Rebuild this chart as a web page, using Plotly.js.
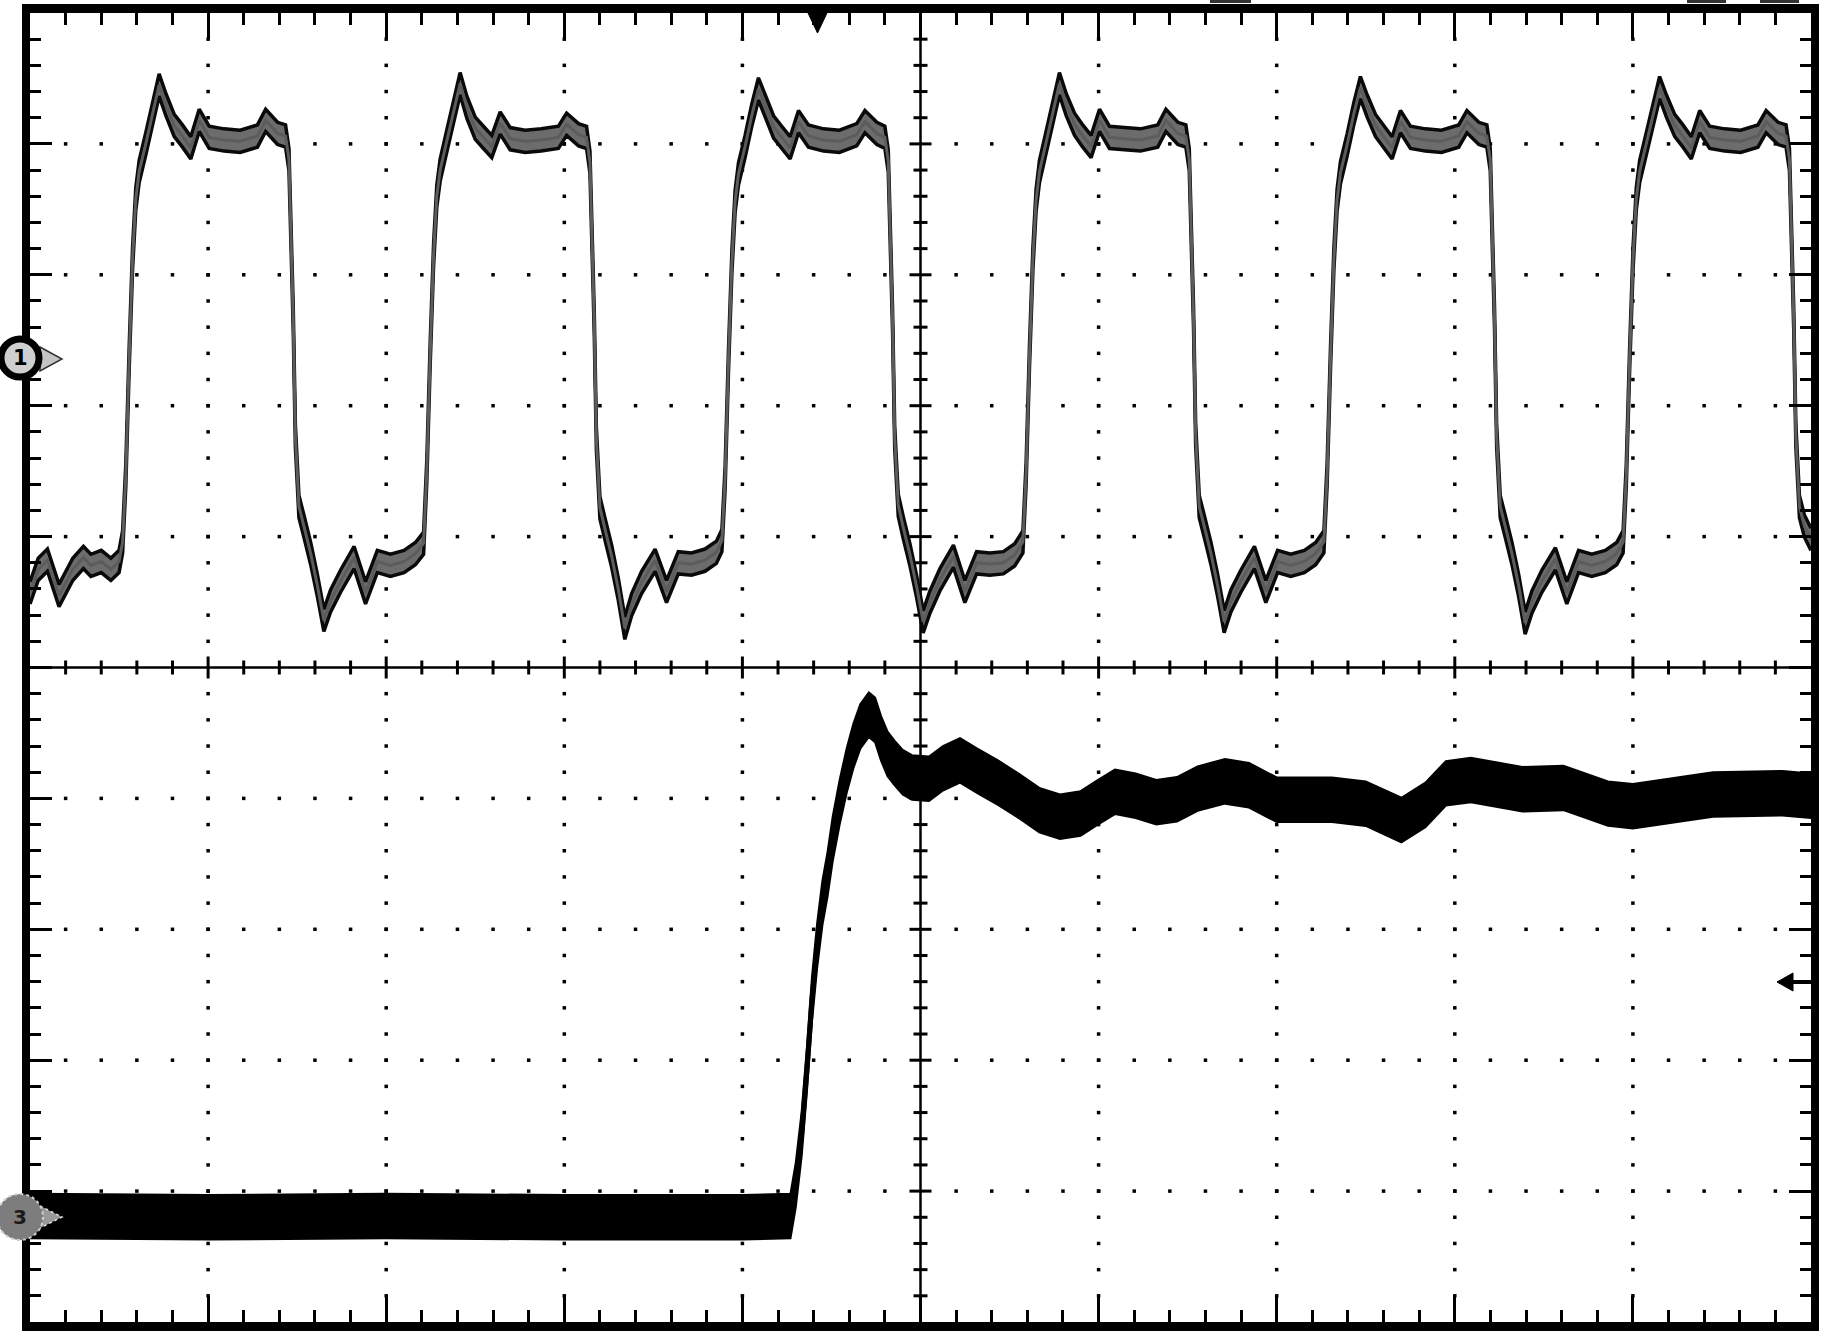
<!DOCTYPE html>
<html>
<head>
<meta charset="utf-8">
<script src="https://cdn.plot.ly/plotly-3.0.1.min.js"></script>
<style>
html,body{margin:0;padding:0;background:#fff;}
#chart{width:1824px;height:1334px;}
</style>
</head>
<body>
<div id="chart"></div>
<script>
// ---- Channel 1 (upper trace), time in divisions, level in divisions ----
const ch1LeadTime  = [0, 0.046, 0.098, 0.163, 0.24, 0.30, 0.342, 0.40, 0.454, 0.50];
const ch1LeadLevel = [0.57, 0.75, 0.82, 0.55, 0.75, 0.84, 0.78, 0.81, 0.75, 0.81];

const ch1TimeA  = [0.52,0.538,0.557,0.576,0.594,0.613,0.65,0.688,0.725,0.763,0.81,0.856,0.903,0.95,1.006,1.09,1.18,1.277,1.323,1.39,1.435,1.454,1.464,1.478,1.49,1.51,1.538,1.576,1.613,1.65,1.688,1.744,1.82,1.884,1.95,2.024,2.10,2.164];
const ch1LevelA = [0.96,1.47,2.37,3.13,3.58,3.79,4.00,4.24,4.45,4.30,4.14,4.06,3.97,4.18,4.05,4.03,4.02,4.06,4.18,4.08,4.06,3.88,3.43,2.67,1.77,1.23,1.08,0.87,0.63,0.36,0.51,0.66,0.84,0.57,0.81,0.78,0.81,0.87];

const ch1TimeB  = [2.21,2.228,2.247,2.266,2.284,2.303,2.34,2.378,2.415,2.453,2.50,2.546,2.593,2.64,2.696,2.78,2.87,2.967,3.013,3.08,3.125,3.144,3.154,3.168,3.18,3.20,3.228,3.266,3.303,3.34,3.378,3.434,3.51,3.574,3.64,3.714,3.79,3.854];
const ch1LevelB = [0.95,1.50,2.40,3.15,3.60,3.80,4.02,4.25,4.46,4.28,4.12,4.05,3.98,4.16,4.04,4.02,4.03,4.05,4.15,4.07,4.05,3.86,3.40,2.65,1.75,1.22,1.06,0.85,0.60,0.30,0.48,0.65,0.82,0.58,0.80,0.79,0.82,0.88];

const ch1TimeC  = [3.885,3.903,3.922,3.941,3.959,3.978,4.015,4.053,4.09,4.128,4.175,4.221,4.268,4.315,4.371,4.455,4.545,4.642,4.688,4.755,4.80,4.819,4.829,4.843,4.855,4.875,4.903,4.941,4.978,5.015,5.053,5.109,5.185,5.249,5.315,5.389,5.465,5.529];
const ch1LevelC = [0.97,1.45,2.35,3.10,3.56,3.77,3.98,4.22,4.42,4.29,4.13,4.05,3.97,4.17,4.06,4.03,4.02,4.07,4.17,4.08,4.05,3.87,3.42,2.66,1.76,1.24,1.07,0.86,0.62,0.35,0.50,0.67,0.85,0.58,0.80,0.79,0.80,0.86];

const ch1TimeD  = [5.575,5.593,5.612,5.631,5.649,5.668,5.705,5.743,5.78,5.818,5.865,5.911,5.958,6.005,6.061,6.145,6.235,6.332,6.378,6.445,6.49,6.509,6.519,6.533,6.545,6.565,6.593,6.631,6.668,6.705,6.743,6.799,6.875,6.939,7.005,7.079,7.155,7.219];
const ch1LevelD = [0.96,1.48,2.38,3.12,3.57,3.79,4.01,4.24,4.46,4.30,4.15,4.06,3.98,4.18,4.05,4.04,4.03,4.06,4.18,4.08,4.06,3.88,3.43,2.68,1.78,1.23,1.08,0.87,0.63,0.35,0.51,0.66,0.84,0.58,0.81,0.78,0.81,0.87];

const ch1TimeE  = [7.265,7.283,7.302,7.321,7.339,7.358,7.395,7.433,7.47,7.508,7.555,7.601,7.648,7.695,7.751,7.835,7.925,8.022,8.068,8.135,8.18,8.199,8.209,8.223,8.235,8.255,8.283,8.321,8.358,8.395,8.433,8.489,8.565,8.629,8.695,8.769,8.845,8.909];
const ch1LevelE = [0.96,1.47,2.36,3.12,3.57,3.78,3.99,4.23,4.43,4.29,4.14,4.06,3.97,4.17,4.05,4.03,4.02,4.06,4.17,4.08,4.06,3.88,3.44,2.67,1.77,1.23,1.08,0.87,0.63,0.34,0.50,0.66,0.83,0.57,0.81,0.78,0.81,0.87];

const ch1TimeF  = [8.945,8.963,8.982,9.001,9.019,9.038,9.075,9.113,9.15,9.188,9.235,9.281,9.328,9.375,9.431,9.515,9.605,9.702,9.748,9.815,9.86,9.879,9.889,9.903,9.915,9.935,9.963,10.0];
const ch1LevelF = [0.96,1.47,2.37,3.13,3.58,3.79,4.00,4.23,4.43,4.29,4.14,4.06,3.97,4.17,4.05,4.03,4.02,4.06,4.17,4.08,4.06,3.88,3.43,2.67,1.77,1.23,1.08,0.98];

// ---- Channel 3 (lower trace) ----
const ch3Time  = [0,1,2,3,4,4.27,4.30,4.333,4.362,4.391,4.42,4.449,4.478,4.507,4.546,4.585,4.623,4.662,4.71,4.745,4.778,4.815,4.855,4.90,4.952,5.048,5.126,5.222,5.319,5.435,5.551,5.667,5.783,5.899,5.995,6.092,6.208,6.324,6.44,6.556,6.71,6.845,7.0,7.31,7.50,7.70,7.835,7.95,8.09,8.38,8.61,8.86,9.0,9.25,9.45,9.84,10.0];
const ch3Level = [-4.19,-4.20,-4.19,-4.20,-4.20,-4.19,-3.95,-3.56,-3.075,-2.53,-2.12,-1.80,-1.58,-1.31,-1.03,-0.79,-0.60,-0.45,-0.36,-0.40,-0.54,-0.66,-0.73,-0.80,-0.84,-0.85,-0.77,-0.71,-0.79,-0.88,-0.98,-1.09,-1.14,-1.115,-1.03,-0.95,-0.98,-1.03,-1.007,-0.925,-0.87,-0.90,-1.01,-1.01,-1.04,-1.165,-1.05,-0.885,-0.86,-0.93,-0.92,-1.04,-1.06,-1.01,-0.97,-0.96,-0.98];

// noise band half-widths (divisions)
const ch1Half = 0.085;
const ch3Half = 0.17;

const ch1Time  = [].concat(ch1LeadTime, ch1TimeA, ch1TimeB, ch1TimeC, ch1TimeD, ch1TimeE, ch1TimeF);
const ch1Level = [].concat(ch1LeadLevel, ch1LevelA, ch1LevelB, ch1LevelC, ch1LevelD, ch1LevelE, ch1LevelF);

// ---- page geometry ----
const ML = 30, MR = 13, MT = 13, MB = 12, W = 1824, H = 1334;
const PW = W - ML - MR, PH = H - MT - MB;
const px = v => (v - ML) / PW;
const py = v => (H - MB - v) / PH;

// ---- graticule dots ----
const dotX = [], dotY = [];
[1,2,3,4,6,7,8,9].forEach(g => {
  for (let j = 1; j < 50; j++) { const y = -5 + 0.2*j; if (Math.abs(y) > 1e-6) { dotX.push(g); dotY.push(y); } }
});
[-4,-3,-2,-1,1,2,3,4].forEach(g => {
  for (let i = 1; i < 50; i++) { const x = 0.2*i; if (Math.abs(x-5) > 1e-6) { dotX.push(x); dotY.push(g); } }
});

const traces = [
  {x: dotX, y: dotY, mode: 'markers', type: 'scatter', hoverinfo: 'skip',
   marker: {symbol: 'square', size: 3.5, color: '#000', line: {width: 0}}},
  {x: ch1Time, y: ch1Level.map(v => v + ch1Half), mode: 'lines', type: 'scatter', hoverinfo: 'skip',
   line: {color: '#0a0a0a', width: 3.5}},
  {x: ch1Time, y: ch1Level.map(v => v - ch1Half), mode: 'lines', type: 'scatter', hoverinfo: 'skip',
   line: {color: '#0a0a0a', width: 3.5}, fill: 'tonexty', fillcolor: '#6c6c6c'},
  {x: ch1Time, y: ch1Level, mode: 'lines', type: 'scatter', hoverinfo: 'skip',
   line: {color: '#5c5c5c', width: 3}},
  {x: ch3Time, y: ch3Level.map(v => v + ch3Half), mode: 'lines', type: 'scatter', hoverinfo: 'skip',
   line: {color: '#000', width: 2}},
  {x: ch3Time, y: ch3Level.map(v => v - ch3Half), mode: 'lines', type: 'scatter', hoverinfo: 'skip',
   line: {color: '#000', width: 2}, fill: 'tonexty', fillcolor: '#000'},
  {x: ch3Time, y: ch3Level, mode: 'lines', type: 'scatter', hoverinfo: 'skip',
   line: {color: '#000', width: 5}}
];

const shapes = [];
// center cross lines
shapes.push({type:'line', xref:'x', yref:'y', x0:5, x1:5, y0:-5, y1:5, line:{color:'#000', width:2.5}, layer:'below'});
shapes.push({type:'line', xref:'x', yref:'y', x0:0, x1:10, y0:0, y1:0, line:{color:'#000', width:2.5}, layer:'below'});
for (let k = 1; k < 50; k++) {
  const v = 0.2*k;
  const major = (k % 5 === 0);
  const len = major ? 11 : 7;
  if (k !== 25) {
    shapes.push({type:'line', xref:'x', yref:'y', ysizemode:'pixel', yanchor:0, x0:v, x1:v, y0:-len, y1:len,
                 line:{color:'#000', width:3}, layer:'below'});
    const yv = -5 + v;
    shapes.push({type:'line', yref:'y', xref:'x', xsizemode:'pixel', xanchor:5, y0:yv, y1:yv, x0:-len, x1:len,
                 line:{color:'#000', width:3}, layer:'below'});
  }
}
// frame
const rect = (x0,y0,x1,y1,col) => ({type:'rect', xref:'paper', yref:'paper', x0:px(x0), x1:px(x1), y0:py(y1), y1:py(y0),
                                   fillcolor:col, line:{width:0}, layer:'above'});
shapes.push(rect(22, 4, 30, 1331, '#000'));
shapes.push(rect(1811, 4, 1819, 1331, '#000'));
shapes.push(rect(22, 4, 1819, 13, '#000'));
shapes.push(rect(22, 1322, 1819, 1331, '#000'));
// small marks on top edge
[[1210,1251],[1687,1726],[1760,1799]].forEach(s => {
  shapes.push(rect(s[0], 0, s[1], 3, '#333'));
});
// trigger position marker
const pathPx = pts => 'M ' + pts.map(p => px(p[0]) + ',' + py(p[1])).join(' L ') + ' Z';
shapes.push({type:'path', xref:'paper', yref:'paper', path: pathPx([[808,13],[827,13],[817.5,33]]),
             fillcolor:'#000', line:{color:'#000', width:1}, layer:'above'});
// trigger level arrow on right
shapes.push({type:'path', xref:'paper', yref:'paper', path: pathPx([[1777,982],[1793,973],[1793,991]]),
             fillcolor:'#000', line:{color:'#000', width:1}, layer:'above'});
shapes.push({type:'line', xref:'paper', yref:'paper', x0:px(1790), x1:px(1811), y0:py(982), y1:py(982),
             line:{color:'#000', width:4}, layer:'above'});
// channel 1 marker
shapes.push({type:'path', xref:'paper', yref:'paper', path: pathPx([[40,347],[62,359],[40,371]]),
             fillcolor:'#c4c4c4', line:{color:'#333', width:1.5}, layer:'above'});
shapes.push({type:'circle', xref:'paper', yref:'paper', x0:px(1), x1:px(39), y0:py(377), y1:py(339),
             fillcolor:'#cfcfcf', line:{color:'#000', width:7}, layer:'above'});
// channel 3 marker
shapes.push({type:'path', xref:'paper', yref:'paper', path: pathPx([[40,1206],[62,1217],[40,1228]]),
             fillcolor:'#9a9a9a', line:{color:'#ddd', width:1.5, dash:'dot'}, layer:'above'});
shapes.push({type:'circle', xref:'paper', yref:'paper', x0:px(-3), x1:px(43), y0:py(1240), y1:py(1194),
             fillcolor:'#7d7d7d', line:{color:'#cfcfcf', width:2, dash:'dot'}, layer:'above'});

const annotations = [
  {xref:'paper', yref:'paper', x:px(20), y:py(358), text:'<b>1</b>', showarrow:false,
   font:{family:'DejaVu Sans', size:21, color:'#000'}, xanchor:'center', yanchor:'middle'},
  {xref:'paper', yref:'paper', x:px(20), y:py(1217), text:'<b>3</b>', showarrow:false,
   font:{family:'DejaVu Sans', size:20, color:'#1a1a1a'}, xanchor:'center', yanchor:'middle'}
];

const axisCommon = {
  showgrid:false, zeroline:false, showticklabels:false, showline:false,
  ticks:'inside', tickmode:'linear', tickcolor:'#000', tickwidth:3, mirror:'ticks', fixedrange:true
};

const layout = {
  width: W, height: H,
  margin: {l: ML, r: MR, t: MT, b: MB, pad: 0},
  paper_bgcolor: '#fff', plot_bgcolor: '#fff',
  showlegend: false,
  xaxis: Object.assign({}, axisCommon, {range:[0,10], tick0:0, dtick:1, ticklen:26,
    minor:{ticks:'inside', tickmode:'linear', tick0:0, dtick:0.2, ticklen:12, tickwidth:3, tickcolor:'#000', showgrid:false}}),
  yaxis: Object.assign({}, axisCommon, {range:[-5,5], tick0:0, dtick:1, ticklen:22,
    minor:{ticks:'inside', tickmode:'linear', tick0:0, dtick:0.2, ticklen:11, tickwidth:3, tickcolor:'#000', showgrid:false}}),
  shapes: shapes,
  annotations: annotations
};

Plotly.newPlot('chart', traces, layout, {staticPlot: true, displayModeBar: false});
</script>
</body>
</html>
